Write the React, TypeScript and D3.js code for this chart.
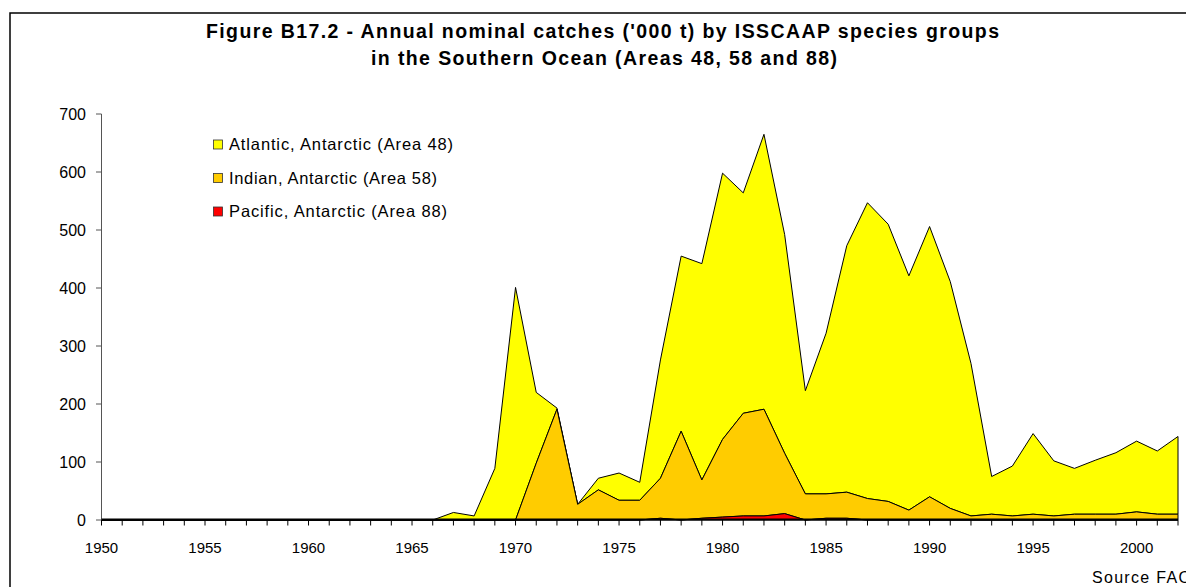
import React from 'react';
import * as d3 from 'd3';

const years = [
  1950, 1951, 1952, 1953, 1954, 1955, 1956, 1957, 1958, 1959,
  1960, 1961, 1962, 1963, 1964, 1965, 1966, 1967, 1968, 1969,
  1970, 1971, 1972, 1973, 1974, 1975, 1976, 1977, 1978, 1979,
  1980, 1981, 1982, 1983, 1984, 1985, 1986, 1987, 1988, 1989,
  1990, 1991, 1992, 1993, 1994, 1995, 1996, 1997, 1998, 1999,
  2000, 2001, 2002,
];

// '000 t
const atlantic = [
  0, 0, 0, 0, 0, 0, 0, 0, 0, 0,
  0, 0, 0, 0, 0, 0, 0, 13, 7, 89,
  401, 122, 2, 0, 20, 47, 31, 204, 302, 373,
  459, 380, 474, 377, 178, 277, 425, 510, 478, 404,
  466, 391, 263, 65, 86, 139, 95, 79, 93, 106,
  122, 109, 134,
];

const indian = [
  0, 0, 0, 0, 0, 0, 0, 0, 0, 0,
  0, 0, 0, 0, 0, 0, 0, 0, 0, 0,
  0, 98, 191, 27, 52, 34, 34, 69, 153, 66,
  134, 177, 184, 104, 45, 42, 45, 37, 32, 17,
  40, 20, 7, 10, 7, 10, 7, 10, 10, 10,
  14, 10, 10,
];

const pacific = [
  0, 0, 0, 0, 0, 0, 0, 0, 0, 0,
  0, 0, 0, 0, 0, 0, 0, 0, 0, 0,
  0, 0, 0, 0, 0, 0, 0, 3, 0, 3,
  5, 7, 7, 11, 0, 3, 3, 0, 0, 0,
  0, 0, 0, 0, 0, 0, 0, 0, 0, 0,
  0, 0, 0,
];

const seriesKeys = ['pacific', 'indian', 'atlantic'];
const legendNames = [
  'Atlantic, Antarctic (Area 48)',
  'Indian, Antarctic (Area 58)',
  'Pacific, Antarctic (Area 88)',
];
const legendColors = ['#FFFF00', '#FFCC00', '#FF0000'];
const seriesColors: Record<string, string> = {
  atlantic: '#FFFF00',
  indian: '#FFCC00',
  pacific: '#FF0000',
};
const yTicks = [0, 100, 200, 300, 400, 500, 600, 700];
const xTickLabels = [1950, 1955, 1960, 1965, 1970, 1975, 1980, 1985, 1990, 1995, 2000];
const titleLines = [
  "Figure B17.2 - Annual nominal catches ('000 t) by ISSCAAP species groups",
  'in the Southern Ocean (Areas 48, 58 and 88)',
];
const sourceText = 'Source FAO';

const FONT = "'Liberation Sans', Arial, Helvetica, sans-serif";

export default function App() {
  const x = d3.scaleLinear().domain([1950, 2002]).range([101.5, 1178]);
  const y = d3.scaleLinear().domain([0, 700]).range([520, 114]);

  const data = years.map((yr, i) => ({
    year: yr,
    pacific: pacific[i],
    indian: indian[i],
    atlantic: atlantic[i],
  }));
  const layers = d3.stack<any>().keys(seriesKeys)(data);
  const area = d3
    .area<any>()
    .x((d) => x(d.data.year))
    .y0((d) => y(d[0]))
    .y1((d) => y(d[1]));

  const drawOrder = ['atlantic', 'indian', 'pacific'];

  return (
    <svg
      width={1186}
      height={587}
      style={{ position: 'absolute', left: 0, top: 0, display: 'block', background: '#fff' }}
      fontFamily={FONT}
    >
      <rect x={0} y={0} width={1186} height={587} fill="#fff" />
      {/* frame */}
      <path d="M10,590 V13 H1190" fill="none" stroke="#000" strokeWidth={1.5} />

      {/* title */}
      <text x={206} y={37.5} fontSize={19.5} fontWeight="bold" textLength={793} lengthAdjust="spacing">
        {titleLines[0]}
      </text>
      <text x={371} y={65} fontSize={19.5} fontWeight="bold" textLength={466} lengthAdjust="spacing">
        {titleLines[1]}
      </text>

      {/* areas */}
      {drawOrder.map((k) => {
        const layer = layers.find((l) => l.key === k)!;
        return (
          <path
            key={k}
            d={area(layer) || ''}
            fill={seriesColors[k]}
            stroke="#000"
            strokeWidth={1}
            strokeLinejoin="miter"
          />
        );
      })}

      {/* y axis */}
      <line x1={101.5} x2={101.5} y1={y(700)} y2={y(0)} stroke="#555" strokeWidth={1} />
      {yTicks.map((t) => (
        <g key={t}>
          <line x1={96} x2={101.5} y1={y(t)} y2={y(t)} stroke="#555" strokeWidth={1} />
          <text x={86} y={y(t) + 5.5} fontSize={16} textAnchor="end" fill="#000">
            {t}
          </text>
        </g>
      ))}

      {/* x axis */}
      {years.map((yr) => (
        <line key={yr} x1={x(yr)} x2={x(yr)} y1={520} y2={525.5} stroke="#000" strokeWidth={1} />
      ))}
      <line x1={101.5} x2={1178} y1={519.5} y2={519.5} stroke="#000" strokeWidth={2} />
      {xTickLabels.map((yr) => (
        <text key={yr} x={x(yr)} y={552.5} fontSize={15} textAnchor="middle" fill="#000">
          {yr}
        </text>
      ))}

      {/* legend */}
      {legendNames.map((name, i) => (
        <g key={name}>
          <rect
            x={213.5}
            y={140 + i * 33.5}
            width={9}
            height={9}
            fill={legendColors[i]}
            stroke="#333"
            strokeWidth={0.8}
          />
          <text x={229} y={150 + i * 33.5} fontSize={16.5} fill="#000" textLength={[224, 208, 218][i]} lengthAdjust="spacing">
            {name}
          </text>
        </g>
      ))}

      {/* source */}
      <text x={1092} y={583} fontSize={16} letterSpacing={1.3} fill="#000">
        {sourceText}
      </text>
    </svg>
  );
}
